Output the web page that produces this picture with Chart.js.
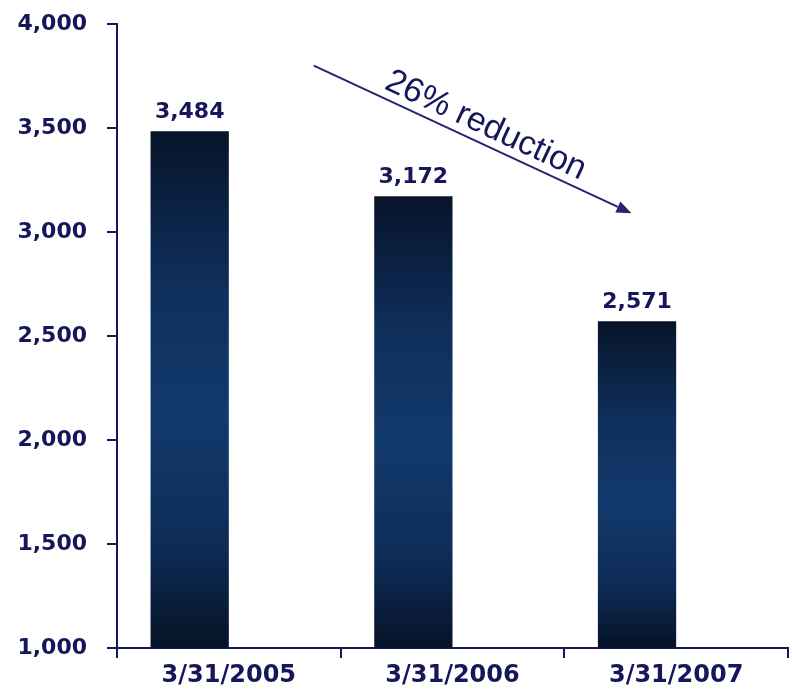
<!DOCTYPE html>
<html>
<head>
<meta charset="utf-8">
<script src="https://cdn.jsdelivr.net/npm/chart.js@4.4.1/dist/chart.umd.min.js"></script>
<style>
  html, body { margin: 0; padding: 0; background: #fff; }
  #wrap { width: 792px; height: 694px; }
</style>
</head>
<body>
<div id="wrap"><canvas id="headcount-chart"></canvas></div>
<script>
// Headcount at fiscal year end
const categories = ['3/31/2005', '3/31/2006', '3/31/2007']
const headcount = [3484, 3172, 2571]
// empty second series so the bars sit in the left half of each category
const spacer = [null, null, null]

const yMin = 1000
const yMax = 4000
const yStep = 500

// trend arrow, in data units: [category index, value]
const arrowFrom = [0.38, 3800]
const arrowTo = [1.8, 3090]
const arrowLabel = '26% reduction'

const NAVY = '#16165a'
const LABEL_FONT = 'DejaVu Sans'

function barGradient(context) {
  const chart = context.chart
  const { chartArea, scales } = chart
  if (!chartArea || context.raw == null) return '#103060'
  const top = scales.y.getPixelForValue(context.raw)
  const bottom = scales.y.getPixelForValue(scales.y.min)
  const g = chart.ctx.createLinearGradient(0, top, 0, bottom)
  g.addColorStop(0, '#07142a')
  g.addColorStop(0.3, '#0f2f5c')
  g.addColorStop(0.55, '#123a6c')
  g.addColorStop(0.8, '#0e2c58')
  g.addColorStop(1, '#061326')
  return g
}

// value above each bar
const valueLabels = {
  id: 'valueLabels',
  afterDatasetsDraw(chart) {
    const ctx = chart.ctx
    const meta = chart.getDatasetMeta(0)
    ctx.save()
    ctx.font = `bold 22px "${LABEL_FONT}"`
    ctx.fillStyle = NAVY
    ctx.textAlign = 'center'
    ctx.textBaseline = 'alphabetic'
    meta.data.forEach((bar, i) => {
      ctx.fillText(headcount[i].toLocaleString('en-US'), bar.x, bar.y - 13)
    })
    ctx.restore()
  }
}

// downward arrow with rotated caption
const trendArrow = {
  id: 'trendArrow',
  afterDraw(chart) {
    const { ctx, scales } = chart
    const x1 = scales.x.getPixelForValue(arrowFrom[0])
    const y1 = scales.y.getPixelForValue(arrowFrom[1])
    const x2 = scales.x.getPixelForValue(arrowTo[0])
    const y2 = scales.y.getPixelForValue(arrowTo[1])
    const angle = Math.atan2(y2 - y1, x2 - x1)

    ctx.save()
    ctx.strokeStyle = '#25256e'
    ctx.fillStyle = '#25256e'
    ctx.lineWidth = 2
    const head = 15
    ctx.beginPath()
    ctx.moveTo(x1, y1)
    ctx.lineTo(x2 - head * Math.cos(angle), y2 - head * Math.sin(angle))
    ctx.stroke()

    ctx.translate(x2, y2)
    ctx.rotate(angle)
    ctx.beginPath()
    ctx.moveTo(0, 0)
    ctx.lineTo(-head, -6)
    ctx.lineTo(-head, 6)
    ctx.closePath()
    ctx.fill()
    ctx.restore()

    // caption sits just above the middle of the line
    const mx = (x1 + x2) / 2
    const my = (y1 + y2) / 2
    ctx.save()
    ctx.translate(mx, my)
    ctx.rotate(angle)
    ctx.font = '34px "Liberation Sans"'
    ctx.fillStyle = NAVY
    ctx.textAlign = 'center'
    ctx.textBaseline = 'middle'
    ctx.fillText(arrowLabel, 6, -18)
    ctx.restore()
  }
}

new Chart(document.getElementById('headcount-chart'), {
  type: 'bar',
  data: {
    labels: categories,
    datasets: [
      {
        data: headcount,
        backgroundColor: barGradient,
        borderWidth: 0,
        barPercentage: 1,
        categoryPercentage: 0.7
      },
      {
        data: spacer,
        backgroundColor: 'rgba(0,0,0,0)',
        borderWidth: 0,
        barPercentage: 1,
        categoryPercentage: 0.7
      }
    ]
  },
  options: {
    responsive: true,
    maintainAspectRatio: false,
    animation: false,
    layout: { padding: { top: 24, right: 4, bottom: 0, left: 0 } },
    plugins: {
      legend: { display: false },
      tooltip: { enabled: false }
    },
    scales: {
      x: {
        afterFit: (scale) => {
          scale.height = 46
          scale.paddingLeft = 0
          scale.paddingRight = 0
        },
        border: { color: NAVY, width: 2 },
        grid: {
          drawOnChartArea: false,
          drawTicks: true,
          tickLength: 10,
          color: NAVY,
          lineWidth: 2
        },
        ticks: {
          color: NAVY,
          padding: 3,
          font: { family: LABEL_FONT, size: 24, weight: 'bold' }
        }
      },
      y: {
        min: yMin,
        max: yMax,
        afterFit: (scale) => {
          scale.width = 117
          scale.paddingTop = 0
          scale.paddingBottom = 0
        },
        border: { color: NAVY, width: 2 },
        grid: {
          drawOnChartArea: false,
          drawTicks: true,
          tickLength: 10,
          color: NAVY,
          lineWidth: 2
        },
        ticks: {
          stepSize: yStep,
          color: NAVY,
          padding: 20,
          font: { family: LABEL_FONT, size: 22, weight: 'bold' },
          callback: (v) => v.toLocaleString('en-US')
        }
      }
    }
  },
  plugins: [valueLabels, trendArrow]
})
</script>
</body>
</html>
